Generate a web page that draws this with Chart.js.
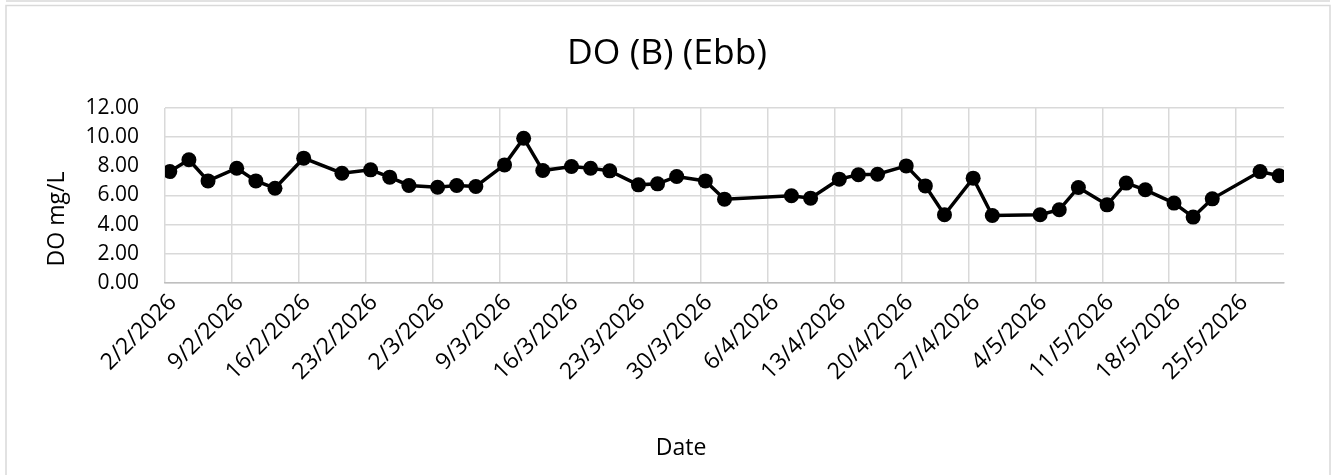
<!DOCTYPE html>
<html><head><meta charset="utf-8">
<script src="https://cdn.jsdelivr.net/npm/chart.js@4/dist/chart.umd.min.js"></script>
<style>html,body{margin:0;padding:0;background:#fff;overflow:hidden}#wrap{width:1334px;height:475px;position:relative}</style>
</head><body><div id="wrap"><canvas id="c" width="1334" height="475"></canvas></div>
<script>
const chartTitle = "DO (B) (Ebb)";
const yAxisTitle = "DO mg/L";
const xAxisTitle = "Date";

const sampleDates = [
  "2/2/2026","4/2/2026","6/2/2026","9/2/2026","11/2/2026","13/2/2026","16/2/2026","20/2/2026",
  "23/2/2026","25/2/2026","27/2/2026","2/3/2026","4/3/2026","6/3/2026","9/3/2026","11/3/2026",
  "13/3/2026","16/3/2026","18/3/2026","20/3/2026","23/3/2026","25/3/2026","27/3/2026","30/3/2026",
  "1/4/2026","8/4/2026","10/4/2026","13/4/2026","15/4/2026","17/4/2026","20/4/2026","22/4/2026",
  "24/4/2026","27/4/2026","29/4/2026","4/5/2026","6/5/2026","8/5/2026","11/5/2026","13/5/2026",
  "15/5/2026","18/5/2026","20/5/2026","22/5/2026","27/5/2026","29/5/2026"
];
const doValues = [
  7.64, 8.45, 7.00, 7.87, 7.00, 6.50, 8.56, 7.53,
  7.76, 7.26, 6.69, 6.57, 6.69, 6.62, 8.10, 9.93,
  7.71, 7.99, 7.87, 7.69, 6.73, 6.80, 7.30, 7.00,
  5.75, 5.98, 5.82, 7.12, 7.42, 7.46, 8.03, 6.66,
  4.68, 7.19, 4.63, 4.68, 5.02, 6.55, 5.36, 6.85,
  6.39, 5.48, 4.52, 5.77, 7.64, 7.35
];
const tickLabels = [
  "2/2/2026","9/2/2026","16/2/2026","23/2/2026","2/3/2026","9/3/2026","16/3/2026","23/3/2026",
  "30/3/2026","6/4/2026","13/4/2026","20/4/2026","27/4/2026","4/5/2026","11/5/2026","18/5/2026","25/5/2026"
];
const yMin = 0, yMax = 12, yStep = 2;

function dayNum(s){ const p = s.split('/').map(Number); return Date.UTC(p[2], p[1]-1, p[0]) / 864e5; }
const origin = dayNum(tickLabels[0]);
const dayIndex = s => dayNum(s) - origin;
const points = sampleDates.map((s, i) => ({ x: dayIndex(s) + 0.5, y: doValues[i] }));
const xMaxDay = dayIndex(sampleDates[sampleDates.length - 1]) + 1;

const FONT = "'Open Sans', 'Noto Sans', sans-serif";

const decor = {
  id: 'decor',
  beforeDraw(chart) {
    const ctx = chart.ctx;
    ctx.save();
    ctx.fillStyle = '#fff';
    ctx.fillRect(0, 0, chart.width, chart.height);
    ctx.strokeStyle = '#d9d9d9';
    ctx.lineWidth = 1.5;
    ctx.beginPath();
    ctx.moveTo(6, 1); ctx.lineTo(1330, 1);
    ctx.stroke();
    ctx.strokeRect(6, 5.5, 1324, 480);
    ctx.restore();
  },
  afterDraw(chart) {
    const ctx = chart.ctx;
    ctx.save();
    ctx.fillStyle = '#000';
    ctx.font = "23px " + FONT;
    ctx.textAlign = 'center';
    ctx.textBaseline = 'middle';
    ctx.fillText(xAxisTitle, 681, 448);
    ctx.translate(57, 219);
    ctx.rotate(-Math.PI / 2);
    ctx.fillText(yAxisTitle, 0, 0);
    ctx.restore();
  }
};

new Chart(document.getElementById('c'), {
  type: 'line',
  data: {
    datasets: [{
      label: chartTitle,
      data: points,
      borderColor: '#000',
      backgroundColor: '#000',
      borderWidth: 3.5,
      pointRadius: 7.5,
      pointHoverRadius: 7.5,
      pointBackgroundColor: '#000',
      pointBorderWidth: 0,
      tension: 0,
      fill: false
    }]
  },
  options: {
    responsive: false,
    animation: false,
    devicePixelRatio: 1,
    layout: { padding: 0 },
    plugins: {
      legend: { display: false },
      tooltip: { enabled: false },
      title: {
        display: true,
        text: chartTitle,
        color: '#000',
        font: { family: FONT, size: 35.5, weight: 'normal' },
        padding: { top: 33, bottom: 32.4 }
      }
    },
    scales: {
      x: {
        type: 'linear',
        min: 0,
        max: xMaxDay,
        afterBuildTicks: (scale) => { scale.ticks = tickLabels.map(l => ({ value: dayIndex(l) })); },
        afterFit: (scale) => { scale.height = 192; },
        ticks: {
          autoSkip: false,
          maxRotation: 45,
          minRotation: 45,
          padding: 6,
          labelOffset: 8,
          color: '#000',
          font: { family: FONT, size: 23 },
          callback: (v, i) => tickLabels[i]
        },
        grid: { color: '#d9d9d9', lineWidth: 1.5, drawTicks: false },
        border: { display: true, color: '#bfbfbf', width: 1.5 }
      },
      y: {
        min: yMin,
        max: yMax,
        afterFit: (scale) => { scale.width = 165; },
        ticks: {
          stepSize: yStep,
          padding: 26,
          color: '#000',
          font: { family: FONT, size: 21 },
          callback: v => Number(v).toFixed(2)
        },
        grid: { color: '#d9d9d9', lineWidth: 1.5, drawTicks: false },
        border: { display: false }
      },
      yRightGap: {
        type: 'linear',
        position: 'right',
        min: yMin,
        max: yMax,
        afterFit: (scale) => { scale.width = 50; },
        ticks: { display: false },
        grid: { display: false, drawTicks: false },
        border: { display: false }
      }
    }
  },
  plugins: [decor]
});
</script>
</body></html>
